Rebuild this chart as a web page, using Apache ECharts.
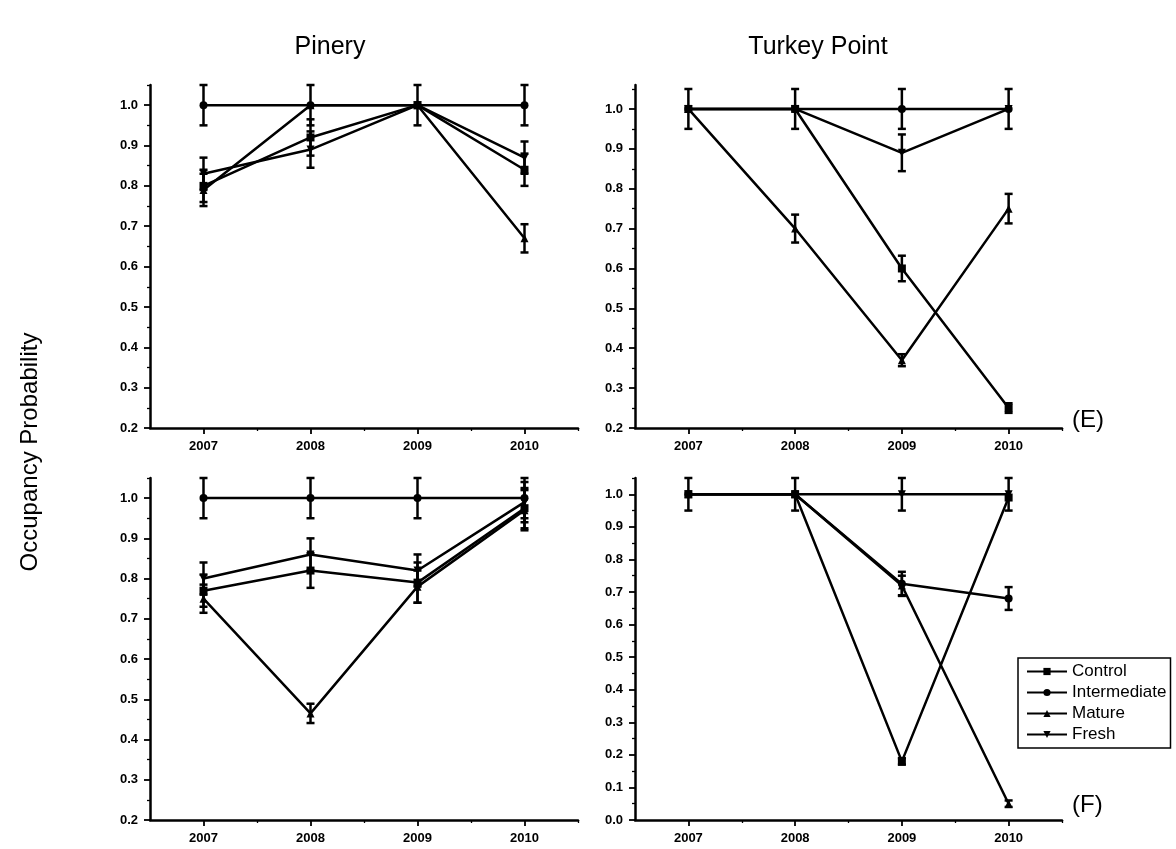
<!DOCTYPE html>
<html><head><meta charset="utf-8">
<script src="https://cdn.jsdelivr.net/npm/echarts@6/dist/echarts.min.js"></script>
<style>html,body{margin:0;padding:0;background:#fff}#c{width:1176px;height:849px}</style>
</head><body><div id="c"></div>
<script>
// ---------- DATA ----------
const years = [2007, 2008, 2009, 2010];
const seriesNames = ['Control', 'Intermediate', 'Mature', 'Fresh'];
const yTicksUpper = [0.2, 0.3, 0.4, 0.5, 0.6, 0.7, 0.8, 0.9, 1.0];
const yTicksLowerRight = [0.0, 0.1, 0.2, 0.3, 0.4, 0.5, 0.6, 0.7, 0.8, 0.9, 1.0];
const panelTitles = ['Pinery', 'Turkey Point'];
const panelLetters = ['(E)', '(F)'];
const yAxisTitle = 'Occupancy Probability';

// Pinery (E)
const pineryE_Control = [0.80, 0.92, 1.00, 0.84];
const pineryE_ControlErr = [0.04, 0.045, 0, 0.04];
const pineryE_Intermediate = [1.00, 1.00, 1.00, 1.00];
const pineryE_IntermediateErr = [0.05, 0.05, 0.05, 0.05];
const pineryE_Mature = [0.79, 1.00, 1.00, 0.67];
const pineryE_MatureErr = [0.04, 0, 0, 0.035];
const pineryE_Fresh = [0.83, 0.89, 1.00, 0.87];
const pineryE_FreshErr = [0.04, 0.045, 0, 0.04];

// Turkey Point (E)
const turkeyE_Control = [1.00, 1.00, 0.60, 0.25];
const turkeyE_ControlErr = [0, 0, 0.032, 0.012];
const turkeyE_Intermediate = [1.00, 1.00, 1.00, 1.00];
const turkeyE_IntermediateErr = [0.05, 0.05, 0.05, 0.05];
const turkeyE_Mature = [1.00, 0.70, 0.37, 0.75];
const turkeyE_MatureErr = [0, 0.035, 0.015, 0.037];
const turkeyE_Fresh = [1.00, 1.00, 0.89, 1.00];
const turkeyE_FreshErr = [0, 0, 0.046, 0];

// Pinery (F)
const pineryF_Control = [0.77, 0.82, 0.79, 0.975];
const pineryF_ControlErr = [0.04, 0.043, 0.05, 0.05];
const pineryF_Intermediate = [1.00, 1.00, 1.00, 1.00];
const pineryF_IntermediateErr = [0.05, 0.05, 0.05, 0.05];
const pineryF_Mature = [0.75, 0.465, 0.78, 0.97];
const pineryF_MatureErr = [0.035, 0.024, 0.04, 0.05];
const pineryF_Fresh = [0.80, 0.86, 0.82, 0.99];
const pineryF_FreshErr = [0.04, 0.04, 0.04, 0.05];

// Turkey Point (F)
const turkeyF_Control = [1.00, 1.00, 0.18, 0.99];
const turkeyF_ControlErr = [0, 0, 0.01, 0];
const turkeyF_Intermediate = [1.00, 1.00, 0.725, 0.68];
const turkeyF_IntermediateErr = [0, 0, 0.037, 0.035];
const turkeyF_Mature = [1.00, 1.00, 0.72, 0.05];
const turkeyF_MatureErr = [0, 0, 0.03, 0.01];
const turkeyF_Fresh = [1.00, 1.00, 1.00, 1.00];
const turkeyF_FreshErr = [0.05, 0.05, 0.05, 0.05];

// ---------- BUILD ----------
const FONT = "'Liberation Sans', Arial, Helvetica, sans-serif";
const symbols = {
  Control: 'rect',
  Intermediate: 'circle',
  Mature: 'triangle',
  Fresh: 'path://M0,0L10,0L5,9Z'
};
const panels = [
  { grid: { left: 150, top: 85, width: 428, height: 343 }, yMin: 0.2, yMax: 1.05, yTicks: yTicksUpper,
    sets: { Control: [pineryE_Control, pineryE_ControlErr], Intermediate: [pineryE_Intermediate, pineryE_IntermediateErr], Mature: [pineryE_Mature, pineryE_MatureErr], Fresh: [pineryE_Fresh, pineryE_FreshErr] } },
  { grid: { left: 635, top: 85, width: 427, height: 343 }, yMin: 0.2, yMax: 1.06, yTicks: yTicksUpper,
    sets: { Control: [turkeyE_Control, turkeyE_ControlErr], Intermediate: [turkeyE_Intermediate, turkeyE_IntermediateErr], Mature: [turkeyE_Mature, turkeyE_MatureErr], Fresh: [turkeyE_Fresh, turkeyE_FreshErr] } },
  { grid: { left: 150, top: 478, width: 428, height: 342 }, yMin: 0.2, yMax: 1.05, yTicks: yTicksUpper,
    sets: { Control: [pineryF_Control, pineryF_ControlErr], Intermediate: [pineryF_Intermediate, pineryF_IntermediateErr], Mature: [pineryF_Mature, pineryF_MatureErr], Fresh: [pineryF_Fresh, pineryF_FreshErr] } },
  { grid: { left: 635, top: 478, width: 427, height: 342 }, yMin: 0.0, yMax: 1.05, yTicks: yTicksLowerRight,
    sets: { Control: [turkeyF_Control, turkeyF_ControlErr], Intermediate: [turkeyF_Intermediate, turkeyF_IntermediateErr], Mature: [turkeyF_Mature, turkeyF_MatureErr], Fresh: [turkeyF_Fresh, turkeyF_FreshErr] } }
];

const minorX = years.map(y => y + 0.5);
const grid = [], xAxis = [], yAxis = [], series = [];
const axisLabelStyle = { fontWeight: 'bold', fontSize: 13, color: '#000', fontFamily: FONT };

panels.forEach((p, i) => {
  grid.push(Object.assign({ containLabel: false }, p.grid));
  const minorY = p.yTicks.map(v => +(v + 0.05).toFixed(2));
  xAxis.push({
    type: 'value', gridIndex: i, min: 2006.5, max: 2010.5, position: 'bottom',
    axisLine: { lineStyle: { color: '#000', width: 2.5 } },
    axisTick: { customValues: years, length: 6, lineStyle: { color: '#000', width: 1.8 } },
    axisLabel: Object.assign({ customValues: years, margin: 12, formatter: v => String(v) }, axisLabelStyle),
    splitLine: { show: false }
  });
  xAxis.push({
    type: 'value', gridIndex: i, min: 2006.5, max: 2010.5, position: 'bottom',
    axisLine: { show: false },
    axisTick: { customValues: minorX, length: 3, lineStyle: { color: '#000', width: 1.3 } },
    axisLabel: { show: false }, splitLine: { show: false }
  });
  yAxis.push({
    type: 'value', gridIndex: i, min: p.yMin, max: p.yMax, position: 'left',
    axisLine: { show: true, lineStyle: { color: '#000', width: 2.5 } },
    axisTick: { show: true, customValues: p.yTicks, length: 6, lineStyle: { color: '#000', width: 1.8 } },
    axisLabel: Object.assign({ customValues: p.yTicks, margin: 12, formatter: v => v.toFixed(1) }, axisLabelStyle),
    splitLine: { show: false }
  });
  yAxis.push({
    type: 'value', gridIndex: i, min: p.yMin, max: p.yMax, position: 'left',
    axisLine: { show: false },
    axisTick: { show: true, customValues: minorY.filter(v => v <= p.yMax), length: 3, lineStyle: { color: '#000', width: 1.3 } },
    axisLabel: { show: false }, splitLine: { show: false }
  });

  const errData = [];
  seriesNames.forEach(name => {
    const [vals, errs] = p.sets[name];
    series.push({
      type: 'line', name: name, xAxisIndex: 2 * i, yAxisIndex: 2 * i,
      data: years.map((y, k) => [y, vals[k]]),
      symbol: symbols[name], symbolSize: 8,
      lineStyle: { color: '#000', width: 2.5 },
      itemStyle: { color: '#000' },
      z: 3
    });
    years.forEach((y, k) => { if (errs[k] > 0) errData.push([y, vals[k], errs[k]]); });
  });
  series.push({
    type: 'custom', name: 'err' + i, xAxisIndex: 2 * i, yAxisIndex: 2 * i,
    data: errData, silent: true, z: 2, clip: false,
    encode: { x: 0, y: 1 },
    renderItem: (params, api) => {
      const x = api.value(0), y = api.value(1), e = api.value(2);
      const t = api.coord([x, y + e]), b = api.coord([x, y - e]);
      const hw = 4;
      const st = { stroke: '#000', lineWidth: 2.5 };
      return { type: 'group', children: [
        { type: 'line', shape: { x1: t[0], y1: t[1], x2: b[0], y2: b[1] }, style: st },
        { type: 'line', shape: { x1: t[0] - hw, y1: t[1], x2: t[0] + hw, y2: t[1] }, style: st },
        { type: 'line', shape: { x1: b[0] - hw, y1: b[1], x2: b[0] + hw, y2: b[1] }, style: st }
      ] };
    }
  });
});

const chart = echarts.init(document.getElementById('c'), null, { renderer: 'canvas' });
chart.setOption({
  animation: false,
  backgroundColor: '#fff',
  grid, xAxis, yAxis, series,
  legend: {
    data: seriesNames, orient: 'vertical', left: 1018, top: 658,
    borderColor: '#000', borderWidth: 1.5, backgroundColor: '#fff',
    padding: [5, 4, 5, 8], itemWidth: 40, itemHeight: 9, itemGap: 4,
    textStyle: { fontSize: 17, color: '#000', fontFamily: FONT }
  },
  graphic: [
    { type: 'text', x: 330, y: 47, style: { text: panelTitles[0], fontSize: 25, fontFamily: FONT, fill: '#000', align: 'center', verticalAlign: 'middle' } },
    { type: 'text', x: 818, y: 47, style: { text: panelTitles[1], fontSize: 25, fontFamily: FONT, fill: '#000', align: 'center', verticalAlign: 'middle' } },
    { type: 'text', x: 30, y: 452, rotation: Math.PI / 2, style: { text: yAxisTitle, fontSize: 24, fontFamily: FONT, fill: '#000', align: 'center', verticalAlign: 'middle' } },
    { type: 'text', x: 1072, y: 420, style: { text: panelLetters[0], fontSize: 24, fontFamily: FONT, fill: '#000', align: 'left', verticalAlign: 'middle' } },
    { type: 'text', x: 1072, y: 805, style: { text: panelLetters[1], fontSize: 24, fontFamily: FONT, fill: '#000', align: 'left', verticalAlign: 'middle' } }
  ]
});
</script>
</body></html>
